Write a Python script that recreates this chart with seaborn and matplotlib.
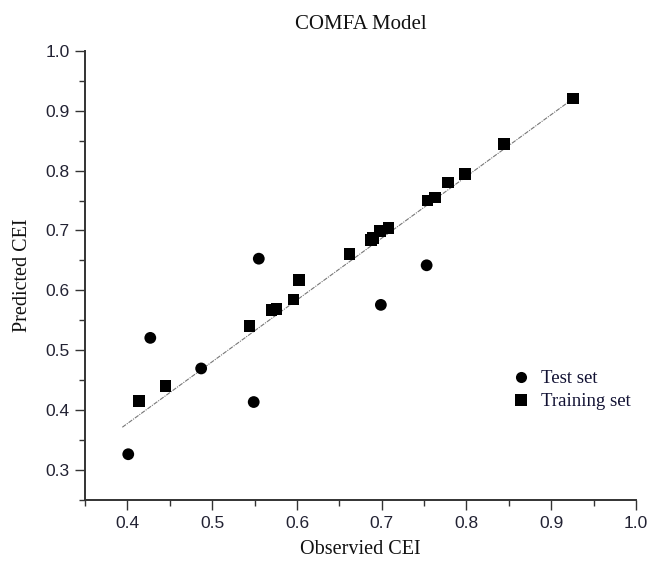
import matplotlib
matplotlib.use("Agg")
import matplotlib.pyplot as plt
import pandas as pd
import seaborn as sns
from matplotlib.ticker import MultipleLocator

test_obs = [0.401, 0.427, 0.487, 0.549, 0.555, 0.699, 0.753]
test_pred = [0.327, 0.521, 0.470, 0.414, 0.653, 0.576, 0.642]

train_obs = [0.414, 0.445, 0.544, 0.570, 0.576, 0.596, 0.602, 0.662, 0.687, 0.690,
             0.698, 0.708, 0.754, 0.763, 0.778, 0.798, 0.844, 0.926]
train_pred = [0.416, 0.441, 0.541, 0.567, 0.569, 0.585, 0.617, 0.661, 0.684, 0.688,
              0.699, 0.704, 0.750, 0.755, 0.780, 0.794, 0.844, 0.920]

# 회귀선 양 끝점
fit_x = [0.394, 0.926]
fit_y = [0.372, 0.920]

df = pd.DataFrame({
    "obs": test_obs + train_obs,
    "pred": test_pred + train_pred,
    "set": ["Test set"] * len(test_obs) + ["Training set"] * len(train_obs),
})

sns.set_style("ticks")
plt.rcParams["font.family"] = ["Liberation Sans", "DejaVu Sans"]

fig = plt.figure(figsize=(6.49, 5.68), dpi=100)
ax = fig.add_axes([0.131, 0.119, 0.849, 0.792])

sns.lineplot(x=fit_x, y=fit_y, ax=ax, color="#777777", linewidth=0.8,
             linestyle=(0, (4, 1, 1, 1)), zorder=1)

sns.scatterplot(data=df, x="obs", y="pred", style="set",
                markers={"Test set": "o", "Training set": "s"},
                color="black", s=72, edgecolor="black", linewidth=0, ax=ax, zorder=2)

ax.set_xlim(0.35, 1.0)
ax.set_ylim(0.25, 1.0)
ax.xaxis.set_minor_locator(MultipleLocator(0.05))
ax.yaxis.set_minor_locator(MultipleLocator(0.05))
ax.set_xticks([0.4, 0.5, 0.6, 0.7, 0.8, 0.9, 1.0])
ax.set_yticks([0.3, 0.4, 0.5, 0.6, 0.7, 0.8, 0.9, 1.0])

ax.tick_params(axis="both", which="major", direction="out", length=7, width=1,
               color="#333333", labelsize=12.5, labelcolor="#222233", pad=4)
ax.tick_params(axis="both", which="minor", direction="out", length=4, width=1,
               color="#333333")

sns.despine(ax=ax)
for side in ["left", "bottom"]:
    ax.spines[side].set_linewidth(1.4)
    ax.spines[side].set_color("#333333")

serif = ["Liberation Serif", "DejaVu Serif"]
ax.set_title("COMFA Model", family=serif, fontsize=15, pad=15.5, color="#111111")
ax.set_xlabel("Observied CEI", family=serif, fontsize=14.5, labelpad=7, color="#111111")
ax.set_ylabel("Predicted CEI", family=serif, fontsize=14.5, labelpad=10, color="#111111")

leg = ax.legend(loc="upper left", bbox_to_anchor=(0.757, 0.306), frameon=False,
                prop={"family": serif, "size": 13.5}, handletextpad=0.45,
                labelspacing=0.3, borderaxespad=0, handlelength=1.2)
for t in leg.get_texts():
    t.set_color("#111133")
for h in leg.legend_handles:
    h.set_markersize(8)

fig.savefig("out.png", dpi=100)
